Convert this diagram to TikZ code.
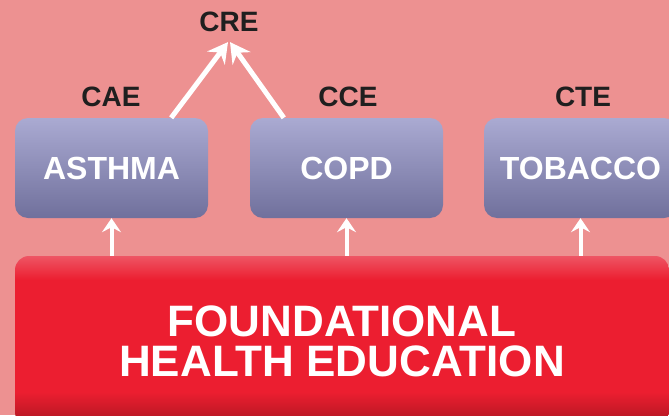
\documentclass[tikz,border=0pt]{standalone}
\usepackage{fontspec}
\setmainfont{Liberation Sans}
\usetikzlibrary{arrows.meta}
\definecolor{bgpink}{RGB}{237,145,145}
\definecolor{boxtop}{RGB}{170,170,210}
\definecolor{boxbot}{RGB}{112,112,156}
\definecolor{redtop}{RGB}{238,85,100}
\definecolor{redmid}{RGB}{236,30,48}
\definecolor{redbot}{RGB}{170,22,32}
\newcommand{\fsz}[1]{\fontsize{#1}{#1}\selectfont\bfseries}
\pgfdeclareverticalshading{redslab}{100bp}{color(0bp)=(redbot); color(25bp)=(redbot);
  color(35bp)=(redmid); color(68bp)=(redmid); color(75bp)=(redtop); color(100bp)=(redtop)}

\begin{document}
\begin{tikzpicture}[x=1pt,y=-1pt,
  dis/.style={rounded corners=13pt, minimum width=193pt, minimum height=100pt,
    top color=boxtop, bottom color=boxbot, text=white, font=\fsz{32}, inner sep=0pt},
  tag/.style={font=\fsz{28}, text=black!88, inner sep=0pt},
  base/.style={rounded corners=14pt, minimum width=654pt, minimum height=170pt,
    shading=redslab, text=white, font=\fontsize{44}{40}\selectfont\bfseries,
    align=center, inner sep=0pt},
  uparr/.style={draw=white, line width=4pt, -{Stealth[length=14pt,width=19pt,inset=5pt]}},
  bigarr/.style={draw=white, line width=5pt, -{Stealth[length=20pt,width=22pt,inset=7pt]}}]
\fill[bgpink] (0,0) rectangle (669,415);
\clip (0,0) rectangle (669,415);

% disease boxes
\node[dis] (asthma) at (111.5,168) {ASTHMA};
\node[dis] (copd) at (346.5,168) {COPD};
\node[dis] (tobacco) at (580.5,168) {TOBACCO};

% certificates
\node[tag] (cae) at (111,97) {CAE};
\node[tag] (cce) at (348,97) {CCE};
\node[tag] (cte) at (583,97) {CTE};
\node[tag] (cre) at (229,22) {CRE};

% foundation
\node[base] (found) at (342,341) {FOUNDATIONAL\\HEALTH EDUCATION};

\foreach \b in {asthma,copd,tobacco}
  \draw[uparr] (found.north -| \b.south) -- (\b.south);
\draw[bigarr] ([xshift=-37pt]asthma.north east) -- ([xshift=-1pt,yshift=-10pt]cre.south);
\draw[bigarr] ([xshift=34pt]copd.north west) -- ([xshift=1pt,yshift=-10pt]cre.south);
\end{tikzpicture}
\end{document}
